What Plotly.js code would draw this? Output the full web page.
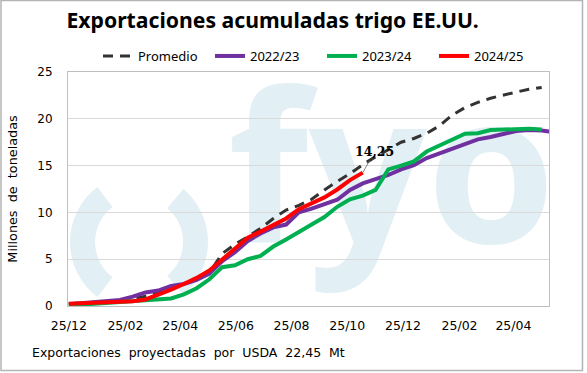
<!DOCTYPE html>
<html><head><meta charset="utf-8">
<script src="https://cdn.plot.ly/plotly-3.0.1.min.js"></script>
<style>html,body{margin:0;padding:0;background:#fff}#chart{width:587px;height:373px}</style>
</head><body><div id="chart"></div>
<script>
// ---- data ----
const dates = ['2023-12-25','2024-01-08','2024-01-22','2024-02-05','2024-02-19','2024-03-04','2024-03-18','2024-04-01','2024-04-15','2024-04-29','2024-05-13','2024-05-27','2024-06-10','2024-06-24','2024-07-08','2024-07-22','2024-08-05','2024-08-19','2024-09-02','2024-09-16','2024-09-30','2024-10-14','2024-10-28','2024-11-11','2024-11-25','2024-12-09','2024-12-23','2025-01-06','2025-01-20','2025-02-03','2025-02-17','2025-03-03','2025-03-17','2025-03-31','2025-04-14','2025-04-28','2025-05-12','2025-05-26','2025-06-09'];
const promedio = [0.25,0.3,0.35,0.45,0.55,0.75,1.05,1.4,1.85,2.35,2.85,3.6,5.6,6.6,7.4,8.3,9.35,10.25,10.75,11.4,12.4,13.3,14.15,15.1,15.95,16.7,17.5,17.9,18.45,19.25,20.4,21.2,21.75,22.2,22.55,22.85,23.15,23.35];
const s2022 = [0.2,0.3,0.4,0.5,0.65,1.0,1.45,1.65,2.15,2.35,2.8,3.45,4.8,5.75,6.95,7.75,8.4,8.7,10.0,10.4,10.9,11.35,12.4,13.1,13.55,14.0,14.6,15.05,15.8,16.3,16.7,17.3,17.8,18.05,18.4,18.7,18.8,18.75,18.55];
const s2023 = [0.05,0.15,0.25,0.35,0.45,0.55,0.6,0.7,0.8,1.25,1.9,2.85,4.15,4.35,5.0,5.35,6.35,7.1,7.85,8.7,9.5,10.6,11.4,11.8,12.4,14.6,15.0,15.45,16.5,17.1,17.8,18.4,18.45,18.8,18.85,18.9,18.95,18.85];
const s2024 = [0.25,0.3,0.35,0.4,0.45,0.5,0.7,1.2,1.75,2.35,3.0,3.8,5.0,6.15,7.3,7.95,8.65,9.35,10.35,10.95,11.6,12.45,13.45,14.25];
const seriesNames = ['Promedio','2022/23','2023/24','2024/25'];
const tickDates = ['2023-12-25','2024-02-25','2024-04-25','2024-06-25','2024-08-25','2024-10-25','2024-12-25','2025-02-25','2025-04-25'];
const tickLabels = ['25/12','25/02','25/04','25/06','25/08','25/10','25/12','25/02','25/04'];
const lastLabel = '14,25';
const footnote = 'Exportaciones\u00a0 proyectadas\u00a0 por\u00a0 USDA\u00a0 22,45\u00a0 Mt';

// ---- watermark (decoration) ----
const wm = '<svg xmlns="http://www.w3.org/2000/svg" width="481" height="234" viewBox="0 0 481 234" preserveAspectRatio="none">' +
  '<g fill="none" stroke="#e2eff4" stroke-width="25">' +
  '<path d="M37 124.9 A56.5 56.5 0 0 0 37 215.1"/>' +
  '<path d="M107.3 126.7 A56.5 56.5 0 0 1 107.3 213.3"/></g>' +
  '<text x="160" y="171" font-family="Open Sans" font-weight="700" font-size="208" fill="#e2eff4">fyo</text></svg>';
const wmSrc = 'data:image/svg+xml;charset=utf-8,' + encodeURIComponent(wm);

const traces = [
  {x: dates.slice(0, promedio.length), y: promedio, name: seriesNames[0], mode: 'lines',
   line: {color: '#333333', width: 3, dash: '10px,7px'}},
  {x: dates.slice(0, s2022.length), y: s2022, name: seriesNames[1], mode: 'lines',
   line: {color: '#7030a0', width: 4}},
  {x: dates.slice(0, s2023.length), y: s2023, name: seriesNames[2], mode: 'lines',
   line: {color: '#00b050', width: 4}},
  {x: dates.slice(0, s2024.length), y: s2024, name: seriesNames[3], mode: 'lines',
   line: {color: '#ff0000', width: 4}}
];

const layout = {
  width: 587, height: 373,
  margin: {l: 68, r: 38, t: 72, b: 67},
  paper_bgcolor: '#ffffff', plot_bgcolor: 'rgba(0,0,0,0)',
  font: {family: 'DejaVu Sans', size: 12, color: '#000'},
  showlegend: true,
  title: {text: '<b>Exportaciones acumuladas trigo EE.UU.</b>', font: {family: 'Noto Sans', size: 21.2, color: '#000'},
          xref: 'container', x: 272.5/587, xanchor: 'center', yref: 'container', y: 0.944, yanchor: 'middle'},
  legend: {orientation: 'h', xref: 'container', yref: 'container', x: 98/587, xanchor: 'left', y: 1 - 56/373, yanchor: 'middle',
           font: {family: 'Noto Sans', size: 13, color: '#000'}, entrywidth: 67, bgcolor: 'rgba(0,0,0,0)'},
  xaxis: {type: 'date', range: ['2023-12-24 02:00', '2025-06-03'], tickvals: tickDates, ticktext: tickLabels,
          showgrid: false, zeroline: false, showline: true, mirror: true, linecolor: '#bfbfbf', linewidth: 1,
          ticks: '', ticklabelstandoff: 8, tickfont: {family: 'DejaVu Sans', size: 12.5, color: '#000'}, fixedrange: true},
  yaxis: {range: [0, 25], dtick: 5, tick0: 0, showgrid: true, gridcolor: '#d9d9d9', gridwidth: 1, zeroline: false,
          showline: true, mirror: true, linecolor: '#bfbfbf', linewidth: 1, ticks: '', ticklabelstandoff: 12,
          tickfont: {family: 'DejaVu Sans', size: 12, color: '#000'},
          title: {text: 'Millones\u00a0 de\u00a0 toneladas', font: {family: 'DejaVu Sans', size: 12.8, color: '#000'}, standoff: 16},
          fixedrange: true},
  images: [{source: wmSrc, xref: 'paper', yref: 'paper', x: 0, y: 1, sizex: 1, sizey: 1, xanchor: 'left', yanchor: 'top',
            sizing: 'stretch', layer: 'below'}],
  annotations: [
    {x: dates[s2024.length - 1], y: s2024[s2024.length - 1], text: '<b>' + lastLabel + '</b>', showarrow: true,
     arrowhead: 0, arrowwidth: 0.8, arrowcolor: '#666', ax: 12, ay: -21, standoff: 0,
     font: {family: 'DejaVu Serif', size: 12.5, color: '#000'}},
    {xref: 'paper', yref: 'paper', x: (30 - 68) / 481, y: (306 - 352) / 234, xanchor: 'left', yanchor: 'middle',
     text: footnote, showarrow: false, font: {family: 'DejaVu Sans', size: 12.5, color: '#000'}}
  ],
  shapes: [
    {type: 'rect', xref: 'paper', yref: 'paper', x0: (1 - 68) / 481, x1: (582.5 - 68) / 481,
     y0: (306 - 370.5) / 234, y1: (306 - 0.5) / 234, line: {color: '#b4b4b4', width: 1.5}, fillcolor: 'rgba(0,0,0,0)', layer: 'below'}
  ]
};

Plotly.newPlot('chart', traces, layout, {displayModeBar: false, staticPlot: true});
</script></body></html>
